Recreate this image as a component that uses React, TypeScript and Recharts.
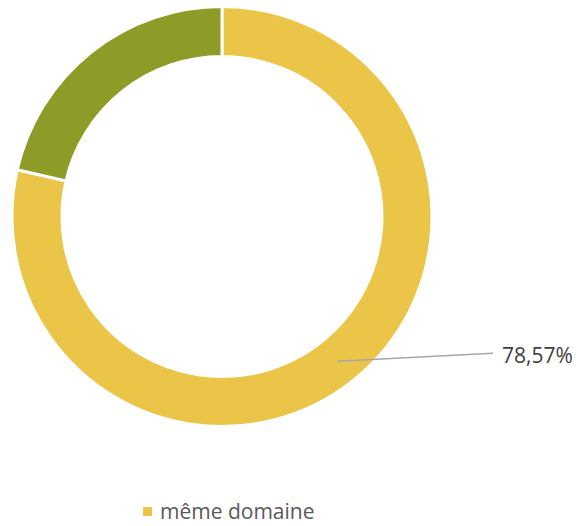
import React from "react";
import { PieChart, Pie, Cell, Legend } from "recharts";

const categories = ["même domaine", "autre domaine"];
const values = [78.57, 21.43];
const labels = ["78,57%", "21,43%"];
const colors = ["#EBC548", "#8F9B27"];
const showLabel = [true, false];

const data = categories.map((name, i) => ({ name, value: values[i], label: labels[i] }));

const RAD = Math.PI / 180;

const renderLabel = (props: any) => {
  const { cx, cy, midAngle, innerRadius, outerRadius, index } = props;
  if (!showLabel[index]) return null;
  const r = (innerRadius + outerRadius) / 2;
  const sx = cx + r * Math.cos(-midAngle * RAD);
  const sy = cy + r * Math.sin(-midAngle * RAD);
  const ex = cx + outerRadius + 61;
  const ey = sy - 8;
  return (
    <g>
      <line x1={sx} y1={sy} x2={ex} y2={ey} stroke="#A6A6A6" strokeWidth={1.5} />
      <text
        x={ex + 9}
        y={ey + 2}
        fill="#404040"
        fontSize={21}
        fontFamily="'Open Sans', sans-serif"
        dominantBaseline="central"
        textAnchor="start"
      >
        {data[index].label}
      </text>
    </g>
  );
};

const renderLegend = () => (
  <div
    style={{
      display: "flex",
      alignItems: "center",
      fontFamily: "'Open Sans', sans-serif",
      fontSize: 21,
      color: "#595959",
      paddingLeft: 143,
    }}
  >
    <span
      style={{
        display: "inline-block",
        width: 9,
        height: 9,
        background: colors[0],
        marginRight: 8,
      }}
    />
    <span>{categories[0]}</span>
  </div>
);

export default function App() {
  return (
    <div style={{ position: "absolute", left: 0, top: 0, width: 578, height: 526, background: "#fff" }}>
      <PieChart width={578} height={526} margin={{ top: 0, right: 0, bottom: 0, left: 0 }}>
        <Pie
          data={data}
          dataKey="value"
          nameKey="name"
          cx={222}
          cy={216.5}
          innerRadius={160}
          outerRadius={210}
          startAngle={90}
          endAngle={-270}
          stroke="#FFFFFF"
          strokeWidth={3}
          label={renderLabel}
          labelLine={false}
          isAnimationActive={false}
        >
          {data.map((d, i) => (
            <Cell key={d.name} fill={colors[i]} />
          ))}
        </Pie>
        <Legend
          content={renderLegend}
          wrapperStyle={{ position: "absolute", left: 0, top: 497, width: 578, height: 28 }}
        />
      </PieChart>
    </div>
  );
}
